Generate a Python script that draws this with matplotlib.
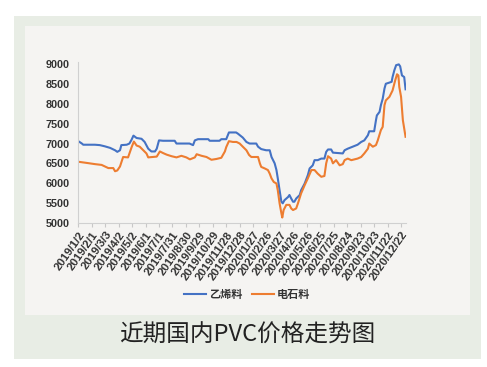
import matplotlib
matplotlib.use("Agg")
import matplotlib.pyplot as plt
import matplotlib.patches as mpatches
import pandas as pd
import numpy as np

plt.rcParams['font.family'] = ['Liberation Sans', 'Noto Sans CJK SC', 'DejaVu Sans']

start_date = "2019-01-02"
tick_labels = ["2019/1/2", "2019/2/1", "2019/3/3", "2019/4/2", "2019/5/2", "2019/6/1",
               "2019/7/1", "2019/7/31", "2019/8/30", "2019/9/29", "2019/10/29", "2019/11/28",
               "2019/12/28", "2020/1/27", "2020/2/26", "2020/3/27", "2020/4/26", "2020/5/26",
               "2020/6/25", "2020/7/25", "2020/8/24", "2020/9/23", "2020/10/23", "2020/11/22",
               "2020/12/22"]

# 乙烯料 (ethylene-based PVC), day offsets from start_date and prices
ethylene_days = [0, 8, 11, 37, 48, 59, 71, 82, 87, 93, 96, 108, 114, 119, 123, 130, 141, 148,
                 156, 163, 171, 175, 180, 189, 215, 219, 248, 256, 260, 267, 290, 293, 315, 319,
                 330, 336, 352, 356, 367, 375, 382, 397, 401, 408, 419, 427, 431, 438, 442, 445,
                 449, 453, 456, 460, 468, 471, 475, 479, 482, 486, 494, 497, 505, 512, 516, 523,
                 527, 534, 542, 549, 553, 557, 564, 568, 590, 594, 601, 612, 623, 631, 638, 646,
                 649, 660, 664, 666, 672, 675, 679, 683, 686, 694, 699, 701, 705, 709, 715, 718,
                 722, 727, 730]
ethylene_price = [7060, 7000, 6970, 6970, 6960, 6930, 6890, 6830, 6790, 6830, 6960, 6970, 7000,
                  7100, 7200, 7140, 7120, 7040, 6870, 6800, 6800, 6870, 7080, 7070, 7070, 7000,
                  7000, 6960, 7080, 7110, 7110, 7070, 7070, 7110, 7110, 7280, 7280, 7250, 7150,
                  7040, 7000, 7000, 6920, 6860, 6830, 6830, 6660, 6500, 6330, 6120, 5820, 5530,
                  5490, 5570, 5650, 5700, 5610, 5530, 5530, 5610, 5700, 5820, 5990, 6200, 6370,
                  6450, 6580, 6580, 6620, 6620, 6790, 6850, 6850, 6770, 6750, 6830, 6870, 6920,
                  6970, 7040, 7080, 7210, 7310, 7310, 7590, 7710, 7800, 7970, 8130, 8390, 8510,
                  8540, 8560, 8680, 8850, 8980, 9000, 8950, 8720, 8680, 8370]

# 电石料 (calcium carbide-based PVC)
carbide_days = [0, 19, 37, 52, 67, 78, 82, 87, 93, 100, 111, 119, 124, 130, 137, 145, 152, 156,
                175, 182, 189, 197, 208, 219, 230, 241, 249, 260, 264, 275, 286, 297, 308, 319,
                327, 330, 336, 345, 353, 360, 367, 375, 381, 386, 401, 405, 408, 416, 423, 427,
                431, 436, 442, 445, 449, 453, 455, 458, 464, 471, 475, 479, 486, 490, 497, 505,
                512, 520, 527, 534, 542, 549, 553, 557, 564, 568, 575, 583, 590, 594, 601, 609,
                623, 631, 638, 646, 649, 657, 664, 668, 675, 679, 683, 686, 694, 701, 707, 711,
                714, 716, 720, 724, 730]
carbide_price = [6540, 6510, 6480, 6460, 6380, 6380, 6300, 6320, 6420, 6660, 6650, 6910, 7050,
                 6950, 6920, 6830, 6750, 6650, 6670, 6800, 6760, 6720, 6680, 6650, 6690, 6650,
                 6600, 6650, 6730, 6690, 6660, 6590, 6610, 6640, 6800, 6910, 7060, 7040, 7040,
                 7000, 6920, 6830, 6710, 6660, 6660, 6500, 6410, 6370, 6330, 6240, 6120, 6030,
                 5990, 5820, 5490, 5240, 5130, 5320, 5450, 5450, 5360, 5320, 5360, 5490, 5740,
                 5950, 6120, 6330, 6330, 6240, 6160, 6180, 6500, 6680, 6620, 6500, 6580, 6450,
                 6480, 6580, 6620, 6580, 6620, 6660, 6750, 6870, 7000, 6920, 6960, 7080, 7340,
                 7420, 7970, 8090, 8180, 8340, 8600, 8750, 8720, 8430, 8180, 7590, 7170]

series_names = ["乙烯料", "电石料"]
y_ticks = [5000, 5500, 6000, 6500, 7000, 7500, 8000, 8500, 9000]
title = "近期国内PVC价格走势图"

t0 = pd.Timestamp(start_date)
eth_x = t0 + pd.to_timedelta(ethylene_days, unit="D")
car_x = t0 + pd.to_timedelta(carbide_days, unit="D")
tick_x = pd.to_datetime(tick_labels, format="%Y/%m/%d")

fig = plt.figure(figsize=(4.87, 3.67), dpi=100)
bg = fig.add_axes([0, 0, 1, 1], zorder=-5)
bg.set_xlim(0, 487)
bg.set_ylim(367, 0)
bg.axis("off")
bg.add_patch(mpatches.Rectangle((14, 16), 467, 343, facecolor="#e8ede5", edgecolor="none"))
bg.add_patch(mpatches.Rectangle((25, 26), 445, 289, facecolor="#f5f4f2", edgecolor="none"))

ax = fig.add_axes([78.3/487, (367-222.7)/367, (406-78.3)/487, (222.7-62)/367], zorder=2)
ax.set_facecolor("none")
ax.plot(eth_x, ethylene_price, color="#4472c4", lw=1.5, label=series_names[0], solid_joinstyle="round")
ax.plot(car_x, carbide_price, color="#ed7d31", lw=1.5, label=series_names[1], solid_joinstyle="round")

ax.set_ylim(5000, 9060)
ax.set_xlim(t0, t0 + pd.Timedelta(days=731))
ax.set_yticks(y_ticks)
ax.set_yticklabels([str(v) for v in y_ticks])
ax.set_xticks(tick_x)
ax.set_xticklabels(tick_labels, rotation=55, ha="right", va="top", rotation_mode="anchor")
for s in ["top", "right"]:
    ax.spines[s].set_visible(False)
for s in ["left", "bottom"]:
    ax.spines[s].set_color("#d0d0d0")
    ax.spines[s].set_linewidth(0.8)
ax.tick_params(axis="y", length=0, labelsize=7.8, labelcolor="#333333", pad=6)
ax.tick_params(axis="x", length=3, color="#c8c8c8", labelsize=8.2, labelcolor="#333333", pad=2)
for lab in ax.get_yticklabels() + ax.get_xticklabels():
    lab.set_fontweight("bold")

leg = ax.legend(loc="center", bbox_to_anchor=(247/487, 1 - 294/367), bbox_transform=fig.transFigure,
                ncol=2, frameon=False, handlelength=2.0, handletextpad=0.2, columnspacing=0.9,
                prop={"family": ["Noto Sans CJK SC"], "size": 8, "weight": "bold"})
for t in leg.get_texts():
    t.set_color("#333333")

fig.text(247/487, 1 - 335/367, title, ha="center", va="center", fontsize=17,
         family=["Noto Sans CJK SC"], color="#222222", zorder=3)

fig.savefig("out.png", dpi=100, facecolor="white")
